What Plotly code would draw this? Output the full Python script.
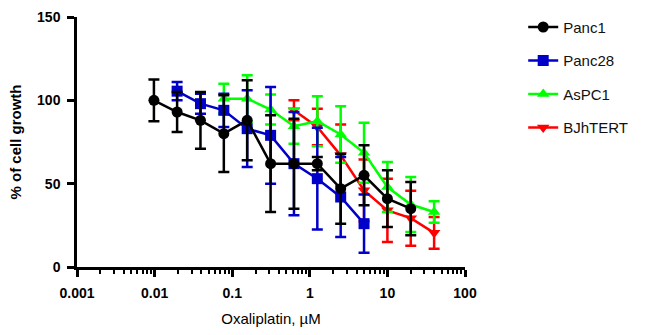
import plotly.graph_objects as go

# Oxaliplatin concentrations (µM), two-fold dilution series
conc = [0.0098, 0.0195, 0.039, 0.078, 0.156, 0.3125, 0.625, 1.25, 2.5, 5, 10, 20, 40]

# Panc1: 0.0098 .. 20 µM
panc1_x = conc[0:12]
panc1_mean = [100, 93, 88, 80, 88, 62, 62, 62, 47, 55, 41, 35]
panc1_sd = [12.5, 12, 17, 23, 24, 29, 27, 4, 21, 18, 17, 16]

# Panc28: 0.0195 .. 5 µM
panc28_x = conc[1:10]
panc28_mean = [105.5, 98, 94, 83, 79, 62, 53, 42, 26]
panc28_sd = [5.5, 6, 10, 23, 29, 31, 30.5, 24, 17.5]

# AsPC1: 0.078 .. 40 µM
aspc1_x = conc[3:13]
aspc1_mean = [101, 101, 94.5, 84.5, 87.5, 79.5, 68.5, 48, 37.5, 33]
aspc1_sd = [9, 14, 9, 10.5, 15, 17, 18, 15, 16.5, 6.5]

# BJhTERT: 0.625 .. 40 µM
bjh_x = conc[6:13]
bjh_mean = [94, 84, 67, 46, 34, 29.3, 20.5]
bjh_sd = [6, 11, 18.5, 18.5, 19, 16.5, 9.5]

x_ticks = [0.001, 0.01, 0.1, 1, 10, 100]
x_ticklabels = ["0.001", "0.01", "0.1", "1", "10", "100"]
y_ticks = [0, 50, 100, 150]

# minor ticks at 2..9 within each decade
x_minor = [m * 10.0 ** e for e in range(-3, 2) for m in range(2, 10)]

FONT = "Arial, Liberation Sans, sans-serif"

series = [
    ("Panc1", panc1_x, panc1_mean, panc1_sd, "#000000", "circle"),
    ("Panc28", panc28_x, panc28_mean, panc28_sd, "#0000C8", "square"),
    ("AsPC1", aspc1_x, aspc1_mean, aspc1_sd, "#00FF00", "triangle-up"),
    ("BJhTERT", bjh_x, bjh_mean, bjh_sd, "#FF0000", "triangle-down"),
]

fig = go.Figure()
# first series is drawn on top, so add them in reverse; legendrank keeps legend order
for rank, (name, xs, ms, sds, color, sym) in reversed(list(enumerate(series))):
    fig.add_trace(go.Scatter(
        x=xs, y=ms, name=name, legendgroup=name, legendrank=rank + 1,
        mode="lines+markers",
        line=dict(color=color, width=2.5),
        marker=dict(color=color, symbol=sym, size=11, line=dict(width=0)),
        error_y=dict(type="data", array=sds, visible=True,
                     color=color, thickness=2.5, width=5.5),
    ))

fig.update_layout(
    width=653, height=335,
    margin=dict(l=77, r=188, t=9, b=68),
    paper_bgcolor="white", plot_bgcolor="white",
    font=dict(family=FONT, color="#000000"),
    showlegend=True,
    legend=dict(
        x=1.15, xanchor="left", y=1.025, yanchor="top",
        traceorder="grouped", tracegroupgap=11,
        font=dict(family=FONT, size=15, color="#111111"),
        bgcolor="rgba(0,0,0,0)", itemwidth=30,
    ),
)

fig.update_xaxes(
    type="log", range=[-3, 2],
    showgrid=False, zeroline=False,
    showline=True, linecolor="#000000", linewidth=2.5,
    ticks="outside", ticklen=7, tickwidth=2.5, tickcolor="#000000",
    tickvals=x_ticks, ticktext=x_ticklabels,
    tickfont=dict(family=FONT, size=14, weight="bold"),
    ticklabelstandoff=4,
    minor=dict(tickmode="array", tickvals=x_minor, ticks="outside",
               ticklen=4, tickwidth=1.5, tickcolor="#000000", showgrid=False),
    title=dict(text="Oxaliplatin, µM", font=dict(family=FONT, size=15), standoff=14),
)

fig.update_yaxes(
    range=[0, 150],
    showgrid=False, zeroline=False,
    showline=True, linecolor="#000000", linewidth=2.5,
    ticks="outside", ticklen=7, tickwidth=2.5, tickcolor="#000000",
    tickvals=y_ticks,
    tickfont=dict(family=FONT, size=14, weight="bold"),
    ticklabelstandoff=4,
    title=dict(text="% of cell growth", font=dict(family=FONT, size=15, weight="bold"), standoff=12),
)

fig.write_html("out.html")
